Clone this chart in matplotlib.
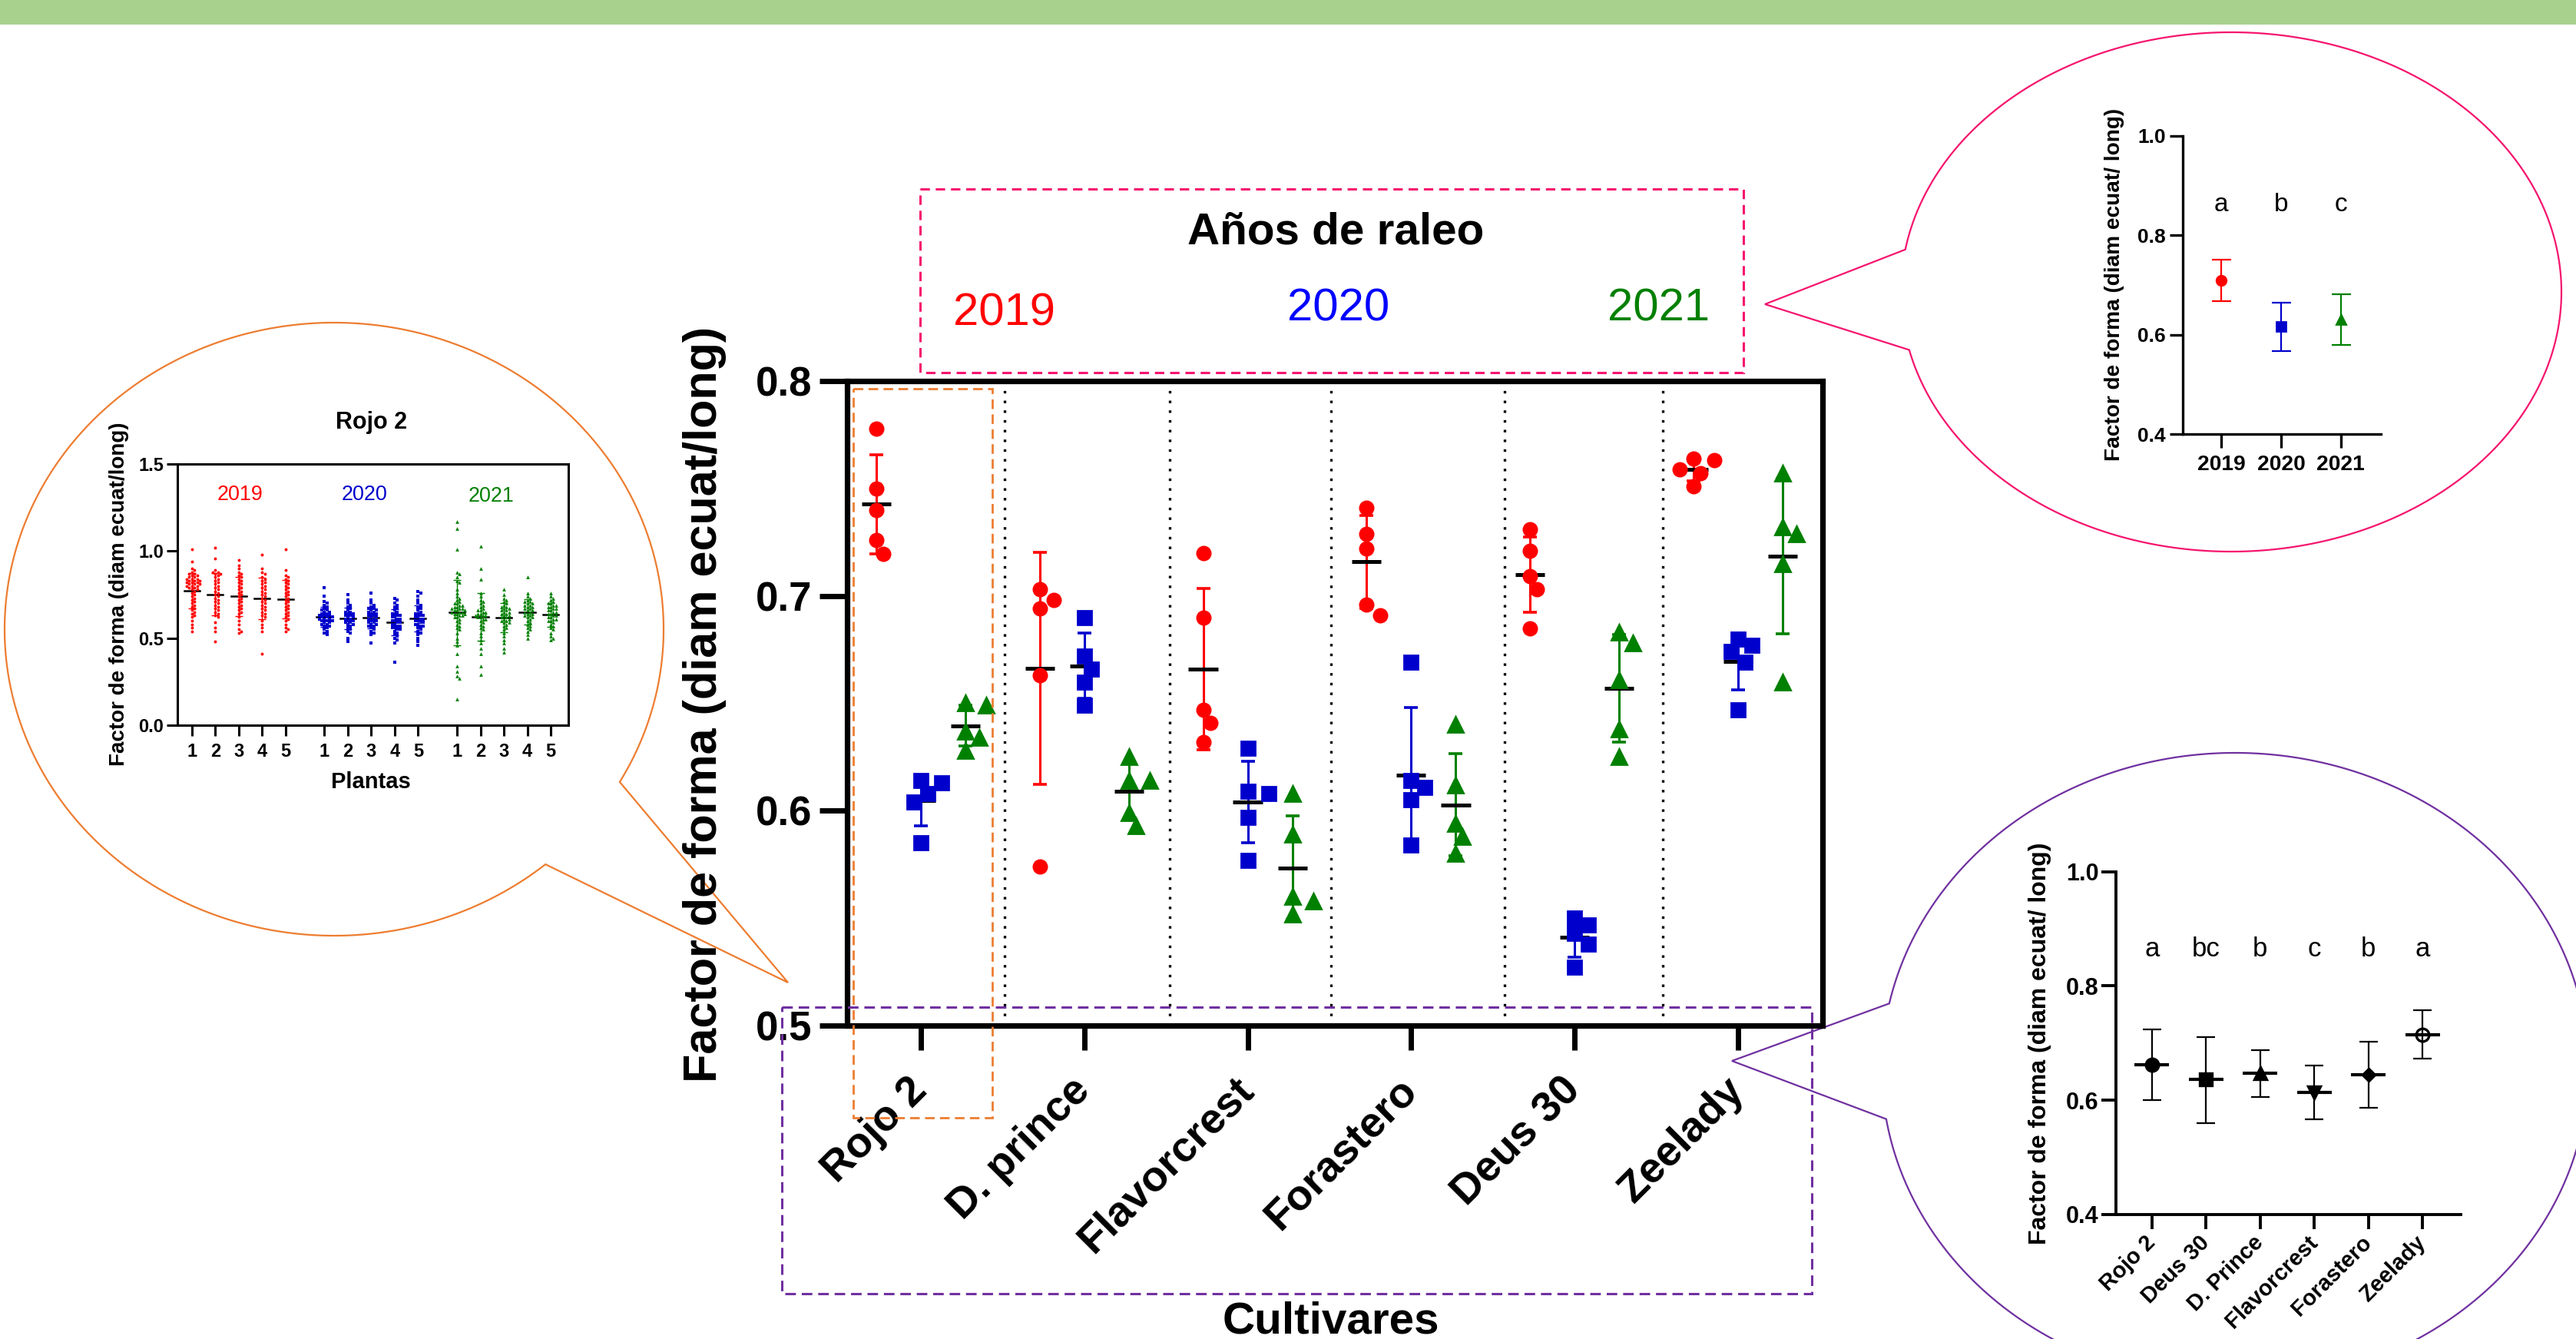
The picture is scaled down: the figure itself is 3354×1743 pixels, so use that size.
import numpy as np
import matplotlib
matplotlib.use('Agg')
import matplotlib.pyplot as plt
from matplotlib.patches import Rectangle, Polygon

plt.rcParams['font.family'] = ['Liberation Sans', 'DejaVu Sans']

# ---------------- data ----------------
cultivars = ['Rojo 2', 'D. prince', 'Flavorcrest', 'Forastero', 'Deus 30', 'Zeelady']
years = ['2019', '2020', '2021']

# factor de forma per plant, one list per cultivar (main chart)
vals_2019 = [[0.778, 0.750, 0.740, 0.726, 0.7195],
             [0.703, 0.698, 0.694, 0.663, 0.574],
             [0.720, 0.690, 0.647, 0.641, 0.632],
             [0.741, 0.729, 0.722, 0.696, 0.691],
             [0.731, 0.721, 0.709, 0.703, 0.685],
             [0.764, 0.763, 0.759, 0.757, 0.751]]
vals_2020 = [[0.614, 0.613, 0.608, 0.604, 0.585],
             [0.690, 0.672, 0.666, 0.660, 0.649],
             [0.629, 0.609, 0.608, 0.597, 0.577],
             [0.669, 0.614, 0.611, 0.605, 0.584],
             [0.550, 0.547, 0.543, 0.538, 0.527],
             [0.680, 0.677, 0.674, 0.669, 0.647]]
vals_2021 = [[0.650, 0.649, 0.637, 0.634, 0.628],
             [0.625, 0.614, 0.614, 0.599, 0.593],
             [0.608, 0.589, 0.560, 0.558, 0.552],
             [0.640, 0.612, 0.594, 0.588, 0.580],
             [0.683, 0.678, 0.661, 0.638, 0.625],
             [0.757, 0.732, 0.729, 0.715, 0.660]]

# Rojo 2 inset: fruits per plant (1-5) for each year
plants = ['1', '2', '3', '4', '5']
rojo_2019 = [
    [1.01, 0.94, 0.90, 0.89, 0.88, 0.87, 0.87, 0.86, 0.86, 0.85, 0.85, 0.84, 0.84, 0.84, 0.83, 0.83, 0.83,
     0.82, 0.82, 0.82, 0.81, 0.81, 0.81, 0.80, 0.80, 0.80, 0.79, 0.79, 0.78, 0.78, 0.77, 0.76, 0.75, 0.74,
     0.73, 0.72, 0.71, 0.70, 0.69, 0.68, 0.67, 0.66, 0.65, 0.64, 0.63, 0.62, 0.60, 0.58, 0.56, 0.54],
    [1.02, 0.96, 0.89, 0.88, 0.88, 0.87, 0.87, 0.86, 0.85, 0.84, 0.83, 0.82, 0.81, 0.80, 0.79, 0.78, 0.77,
     0.76, 0.75, 0.74, 0.73, 0.72, 0.71, 0.70, 0.69, 0.68, 0.67, 0.66, 0.65, 0.64, 0.63, 0.62, 0.59, 0.56,
     0.54, 0.48],
    [0.95, 0.92, 0.90, 0.88, 0.87, 0.86, 0.85, 0.84, 0.83, 0.82, 0.81, 0.80, 0.79, 0.78, 0.77, 0.76, 0.75,
     0.74, 0.73, 0.72, 0.71, 0.70, 0.69, 0.68, 0.67, 0.66, 0.65, 0.64, 0.62, 0.60, 0.58, 0.55, 0.54, 0.53],
    [0.98, 0.90, 0.88, 0.87, 0.85, 0.84, 0.83, 0.82, 0.81, 0.80, 0.79, 0.78, 0.77, 0.76, 0.75, 0.74, 0.73,
     0.72, 0.71, 0.70, 0.69, 0.68, 0.67, 0.66, 0.65, 0.64, 0.63, 0.62, 0.60, 0.58, 0.56, 0.54, 0.41],
    [1.01, 0.89, 0.86, 0.85, 0.84, 0.83, 0.82, 0.81, 0.80, 0.79, 0.78, 0.77, 0.76, 0.75, 0.74, 0.73, 0.72,
     0.71, 0.70, 0.69, 0.68, 0.67, 0.66, 0.65, 0.64, 0.63, 0.62, 0.61, 0.60, 0.58, 0.56, 0.55, 0.54],
]
rojo_2020 = [
    [0.79, 0.74, 0.71, 0.70, 0.69, 0.68, 0.67, 0.66, 0.66, 0.65, 0.65, 0.64, 0.64, 0.63, 0.63, 0.63, 0.62,
     0.62, 0.62, 0.61, 0.61, 0.61, 0.60, 0.60, 0.60, 0.59, 0.59, 0.58, 0.58, 0.57, 0.57, 0.56, 0.55, 0.54,
     0.53, 0.52],
    [0.75, 0.72, 0.70, 0.69, 0.68, 0.67, 0.66, 0.65, 0.65, 0.64, 0.64, 0.63, 0.63, 0.62, 0.62, 0.61, 0.61,
     0.60, 0.60, 0.59, 0.59, 0.58, 0.58, 0.57, 0.56, 0.55, 0.54, 0.53, 0.50, 0.48],
    [0.76, 0.72, 0.70, 0.69, 0.68, 0.67, 0.67, 0.66, 0.66, 0.65, 0.65, 0.64, 0.64, 0.63, 0.63, 0.62, 0.62,
     0.61, 0.61, 0.60, 0.60, 0.59, 0.59, 0.58, 0.58, 0.57, 0.57, 0.56, 0.55, 0.54, 0.53, 0.52, 0.47],
    [0.73, 0.72, 0.70, 0.69, 0.68, 0.67, 0.66, 0.65, 0.64, 0.64, 0.63, 0.63, 0.62, 0.62, 0.61, 0.61, 0.60,
     0.60, 0.59, 0.59, 0.58, 0.58, 0.57, 0.57, 0.56, 0.56, 0.55, 0.55, 0.54, 0.53, 0.52, 0.51, 0.50, 0.49,
     0.47, 0.36],
    [0.77, 0.76, 0.74, 0.72, 0.70, 0.69, 0.68, 0.67, 0.66, 0.65, 0.64, 0.64, 0.63, 0.63, 0.62, 0.62, 0.61,
     0.61, 0.60, 0.60, 0.59, 0.59, 0.58, 0.58, 0.57, 0.57, 0.56, 0.55, 0.54, 0.53, 0.52, 0.50, 0.48, 0.46],
]
rojo_2021 = [
    [1.17, 1.13, 1.01, 0.88, 0.87, 0.85, 0.83, 0.82, 0.78, 0.76, 0.74, 0.73, 0.72, 0.71, 0.70, 0.70, 0.69,
     0.69, 0.68, 0.68, 0.67, 0.67, 0.67, 0.66, 0.66, 0.66, 0.65, 0.65, 0.65, 0.64, 0.64, 0.64, 0.63, 0.63,
     0.62, 0.62, 0.61, 0.60, 0.59, 0.58, 0.57, 0.56, 0.55, 0.53, 0.50, 0.48, 0.46, 0.41, 0.34, 0.31, 0.28,
     0.27, 0.15],
    [1.03, 0.90, 0.84, 0.76, 0.74, 0.72, 0.71, 0.70, 0.69, 0.68, 0.67, 0.66, 0.66, 0.65, 0.65, 0.64, 0.64,
     0.63, 0.63, 0.63, 0.62, 0.62, 0.61, 0.61, 0.60, 0.59, 0.58, 0.57, 0.56, 0.55, 0.53, 0.51, 0.49, 0.47,
     0.44, 0.41, 0.34, 0.29],
    [0.78, 0.75, 0.73, 0.72, 0.71, 0.70, 0.69, 0.68, 0.68, 0.67, 0.67, 0.66, 0.66, 0.65, 0.65, 0.64, 0.64,
     0.63, 0.63, 0.62, 0.62, 0.61, 0.61, 0.60, 0.60, 0.59, 0.59, 0.58, 0.57, 0.56, 0.55, 0.53, 0.51, 0.49,
     0.47, 0.44, 0.42],
    [0.85, 0.76, 0.74, 0.73, 0.72, 0.71, 0.71, 0.70, 0.70, 0.69, 0.69, 0.68, 0.68, 0.67, 0.67, 0.66, 0.66,
     0.65, 0.65, 0.64, 0.64, 0.63, 0.63, 0.62, 0.62, 0.61, 0.60, 0.59, 0.58, 0.57, 0.56, 0.55, 0.54, 0.52,
     0.50],
    [0.76, 0.74, 0.73, 0.72, 0.71, 0.70, 0.70, 0.69, 0.69, 0.68, 0.68, 0.67, 0.67, 0.66, 0.66, 0.65, 0.65,
     0.64, 0.64, 0.63, 0.63, 0.62, 0.62, 0.61, 0.61, 0.60, 0.60, 0.59, 0.58, 0.57, 0.56, 0.55, 0.53, 0.51,
     0.50, 0.49],
]

# year means (top right inset)
year_mean = [0.709, 0.616, 0.630]
year_lo = [0.668, 0.567, 0.579]
year_hi = [0.751, 0.665, 0.681]
year_letters = ['a', 'b', 'c']

# cultivar means (bottom right inset)
cult_b = ['Rojo 2', 'Deus 30', 'D. Prince', 'Flavorcrest', 'Forastero', 'Zeelady']
cult_mean = [0.662, 0.636, 0.647, 0.614, 0.645, 0.715]
cult_lo = [0.600, 0.560, 0.605, 0.566, 0.587, 0.673]
cult_hi = [0.724, 0.711, 0.688, 0.661, 0.702, 0.758]
cult_letters = ['a', 'bc', 'b', 'c', 'b', 'a']

# ---------------- styling ----------------
RED, BLUE, GREEN = '#FF0000', '#0000CC', '#008000'
ORANGE, PINK, PURPLE = '#ED7D31', '#F5146E', '#7030A0'
W, H = 3355, 1743

fig = plt.figure(figsize=(W / 200, H / 200), dpi=200)


def rect(x0, y0, x1, y1):
    return [x0 / W, 1 - y1 / H, (x1 - x0) / W, (y1 - y0) / H]


def swarm(vals, ypx, diam, step):
    # simple beeswarm: horizontal offsets in pixels
    vals = np.asarray(vals, dtype=float)
    offs = np.zeros(len(vals))
    placed = []
    cands = [0.0] + [s * k * step for k in range(1, 80) for s in (1, -1)]
    for i in np.argsort(vals)[::-1]:
        y = vals[i] * ypx
        for x in cands:
            if all((x - px) ** 2 + (y - py) ** 2 >= diam ** 2 for px, py in placed):
                break
        placed.append((x, y))
        offs[i] = x
    return offs


def ftext(x, y, s, **kw):
    fig.text(x / W, 1 - y / H, s, ha='center', va='center', **kw)


# background layer: header band and speech bubbles
bg = fig.add_axes([0, 0, 1, 1], zorder=0)
bg.set_xlim(0, W)
bg.set_ylim(H, 0)
bg.axis('off')
bg.add_patch(Rectangle((0, 0), W, 32, color='#A9D18E', lw=0))


def bubble(cx, cy, a, b, t1, t2, tip, color):
    th = np.radians(np.linspace(t2, t1 + 360, 500))
    xs = np.r_[cx + a * np.cos(th), tip[0]]
    ys = np.r_[cy + b * np.sin(th), tip[1]]
    bg.add_patch(Polygon(np.column_stack([xs, ys]), closed=True, fc='white', ec=color, lw=0.8))


bubble(435, 819, 429, 399, 29.9, 50.1, (1026, 1279), ORANGE)
bubble(2905, 380, 430, 338, 167.1, 189.4, (2298, 396), PINK)
bubble(2910, 1391, 460, 411, 170.8, 191.9, (2255, 1381), PURPLE)

# ---------------- main chart ----------------
ax = fig.add_axes(rect(1103, 496, 2373, 1335), zorder=2)
ax.set_facecolor('none')
colors = [RED, BLUE, GREEN]
markers = ['o', 's', '^']
msizes = [6.2, 6.4, 7.0]
offsets = [-0.273, 0.0, 0.273]
for series, col, mk, ms, off in zip([vals_2019, vals_2020, vals_2021], colors, markers, msizes, offsets):
    for i, v in enumerate(series):
        v = np.array(v)
        m, sd = v.mean(), v.std(ddof=1)
        x = i + off
        ax.errorbar(x, m, yerr=sd, fmt='none', ecolor=col, elinewidth=1.1,
                    capsize=3.3, capthick=1.3, zorder=2)
        ax.plot([x - 0.09, x + 0.09], [m, m], color='black', lw=1.8,
                solid_capstyle='butt', zorder=3)
        dx = swarm(v, 2797, 19, 9) / 212.7
        ax.plot(x + dx, v, ls='none', marker=mk, ms=ms, color=col, mec=col, zorder=4)

sep_x = [0.51, 1.52, 2.51, 3.57, 4.54]
for s in sep_x:
    ax.axvline(s, color='black', ls=(0, (1, 2.8)), lw=1.2, zorder=1)

ax.set_xlim(-0.452, 5.518)
ax.set_ylim(0.5, 0.8)
ax.set_yticks([0.5, 0.6, 0.7, 0.8])
ax.set_yticklabels(['0.5', '0.6', '0.7', '0.8'], fontsize=19, fontweight='bold')
ax.set_xticks(range(len(cultivars)))
ax.set_xticklabels(cultivars, rotation=45, ha='right', va='center', rotation_mode='anchor',
                   fontsize=20, fontweight='bold')
ax.tick_params(axis='y', length=13, width=2.5, pad=3.5)
ax.tick_params(axis='x', length=11.5, width=2.5, pad=16)
for sp in ax.spines.values():
    sp.set_linewidth(2.6)

ftext(918, 917, 'Factor de forma (diam ecuat/long)', rotation=90, fontsize=22, fontweight='bold')
ftext(1733, 1720, 'Cultivares', fontsize=21, fontweight='bold')

# title box
ftext(1739, 302, 'Años de raleo', fontsize=21, fontweight='bold')
ftext(1308, 408, '2019', fontsize=21.5, color=RED)
ftext(1743, 402, '2020', fontsize=21.5, color='#0000FF')
ftext(2160, 402, '2021', fontsize=21.5, color=GREEN)

# ---------------- Rojo 2 inset ----------------
axL = fig.add_axes(rect(231, 604.3, 739.6, 943.8), zorder=2)
axL.set_facecolor('none')
pos_all, lab_all = [], []
for g, (series, col, mk, ms) in enumerate(zip([rojo_2019, rojo_2020, rojo_2021], colors, markers,
                                             [1.4, 1.4, 1.7])):
    for p, v in enumerate(series):
        v = np.array(v)
        x = p + 1 + g * 5.66
        m, sd = v.mean(), v.std(ddof=1)
        axL.errorbar(x, m, yerr=sd, fmt='none', ecolor=col, elinewidth=0.5, capsize=1.8,
                     capthick=0.5, zorder=2)
        axL.plot([x - 0.33, x + 0.33], [m, m], color='black', lw=0.9, zorder=3)
        dx = swarm(v, 226.3, 3.4, 1.7) / 30.5
        axL.plot(x + dx, v, ls='none', marker=mk, ms=ms, color=col, mec=col, mew=0, zorder=4)
        pos_all.append(x)
        lab_all.append(plants[p])
axL.set_xlim(0.384, 17.06)
axL.set_ylim(0, 1.5)
axL.set_yticks([0, 0.5, 1.0, 1.5])
axL.set_yticklabels(['0.0', '0.5', '1.0', '1.5'], fontsize=8.5, fontweight='bold')
axL.set_xticks(pos_all)
axL.set_xticklabels(lab_all, fontsize=8.5, fontweight='bold')
axL.tick_params(axis='both', length=5, width=1.1, pad=1.5)
axL.tick_params(axis='x', pad=3.5)
for sp in axL.spines.values():
    sp.set_linewidth(1.1)
ftext(484, 550, 'Rojo 2', fontsize=11, fontweight='bold')
ftext(312, 644, '2019', fontsize=9.7, color=RED)
ftext(475, 644, '2020', fontsize=9.7, color=BLUE)
ftext(640, 646, '2021', fontsize=9.7, color=GREEN)
ftext(483, 1018, 'Plantas', fontsize=10.5, fontweight='bold')
ftext(155, 773, 'Factor de forma (diam ecuat/long)', rotation=90, fontsize=10, fontweight='bold')

# ---------------- year inset (top right) ----------------
axT = fig.add_axes(rect(2841.7, 176.7, 3100, 565), zorder=2)
axT.set_facecolor('none')
for i, (m, lo, hi, col, mk) in enumerate(zip(year_mean, year_lo, year_hi, colors, markers)):
    axT.errorbar(i, m, yerr=[[m - lo], [hi - m]], fmt=mk, color=col, ms=4.5,
                 elinewidth=0.8, capsize=4.5, capthick=0.8)
    axT.text(i, 0.862, year_letters[i], ha='center', va='center', fontsize=12)
axT.set_xlim(-0.651, 2.673)
axT.set_ylim(0.4, 1.0)
axT.set_yticks([0.4, 0.6, 0.8, 1.0])
axT.set_yticklabels(['0.4', '0.6', '0.8', '1.0'], fontsize=9.5, fontweight='bold')
axT.set_xticks(range(3))
axT.set_xticklabels(years, fontsize=10.2, fontweight='bold')
axT.tick_params(axis='both', length=6.3, width=1.2, pad=1.5)
axT.tick_params(axis='x', pad=3.5)
axT.spines['top'].set_visible(False)
axT.spines['right'].set_visible(False)
for sp in ('left', 'bottom'):
    axT.spines[sp].set_linewidth(1.2)
ftext(2753, 370, 'Factor de forma (diam ecuat/ long)', rotation=90, fontsize=10.1,
      fontweight='bold')

# ---------------- cultivar inset (bottom right) ----------------
axB = fig.add_axes(rect(2755.5, 1134.6, 3204.5, 1581), zorder=2)
axB.set_facecolor('none')
b_markers = ['o', 's', '^', 'v', 'D', 'o']
b_ms = [6.0, 6.0, 6.0, 6.0, 4.3, 6.0]
for i, (m, lo, hi) in enumerate(zip(cult_mean, cult_lo, cult_hi)):
    axB.errorbar(i, m, yerr=[[m - lo], [hi - m]], fmt='none', ecolor='black', elinewidth=0.8,
                 capsize=4.2, capthick=0.8, zorder=2)
    axB.plot([i - 0.32, i + 0.32], [m, m], color='black', lw=1.5, solid_capstyle='butt', zorder=3)
    face = 'none' if i == len(cult_mean) - 1 else 'black'
    axB.plot(i, m, marker=b_markers[i], ms=b_ms[i], mfc=face, mec='black', mew=1.2, ls='none',
             zorder=4)
    axB.text(i, 0.864, cult_letters[i], ha='center', va='center', fontsize=12.5)
axB.set_xlim(-0.658, 5.712)
axB.set_ylim(0.4, 1.0)
axB.set_yticks([0.4, 0.6, 0.8, 1.0])
axB.set_yticklabels(['0.4', '0.6', '0.8', '1.0'], fontsize=11, fontweight='bold')
axB.set_xticks(range(len(cult_b)))
axB.set_xticklabels(cult_b, rotation=45, ha='right', va='center', rotation_mode='anchor',
                    fontsize=10.5, fontweight='bold')
axB.tick_params(axis='both', length=6.7, width=1.4, pad=1.5)
axB.tick_params(axis='x', pad=5)
axB.spines['top'].set_visible(False)
axB.spines['right'].set_visible(False)
for sp in ('left', 'bottom'):
    axB.spines[sp].set_linewidth(1.4)
ftext(2656, 1358, 'Factor de forma (diam ecuat/ long)', rotation=90, fontsize=11.5,
      fontweight='bold')

# ---------------- dashed highlight boxes ----------------
fg = fig.add_axes([0, 0, 1, 1], zorder=5)
fg.set_facecolor('none')
fg.set_xlim(0, W)
fg.set_ylim(H, 0)
fg.axis('off')
fg.add_patch(Rectangle((1198, 246), 2270 - 1198, 485 - 246, fill=False, ec=PINK, lw=1.1,
                       ls=(0, (4, 2.5))))
fg.add_patch(Rectangle((1111, 506), 1292.5 - 1111, 1455 - 506, fill=False, ec=ORANGE, lw=1.0,
                       ls=(0, (4.5, 2.5))))
fg.add_patch(Rectangle((1018.5, 1311), 2358.6 - 1018.5, 1684 - 1311, fill=False, ec=PURPLE, lw=1.1,
                       ls=(0, (4.5, 2.5))))

fig.savefig('out.png', dpi=200, facecolor='white')
